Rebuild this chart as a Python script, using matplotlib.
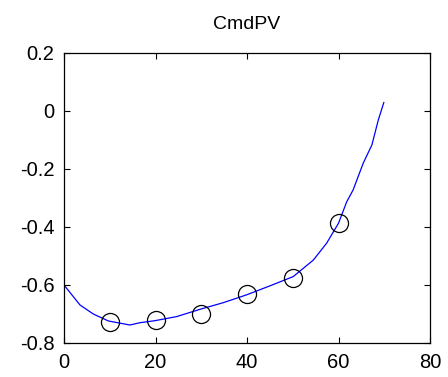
import numpy as np
import matplotlib.pyplot as plt

plt.rcParams['font.family'] = ['Liberation Sans', 'DejaVu Sans']

# blue curve
line_x = [0, 3.5, 6.4, 9.7, 14.4, 16.6, 19.9, 24.6, 29.7, 34.8, 39.9, 45.0,
          50.1, 54.5, 57.4, 60.0, 61.8, 63.2, 65.4, 67.3, 68.7, 69.9]
line_y = [-0.600, -0.669, -0.700, -0.724, -0.738, -0.730, -0.723, -0.709,
          -0.684, -0.661, -0.634, -0.603, -0.571, -0.514, -0.456, -0.387,
          -0.313, -0.272, -0.180, -0.117, -0.031, 0.029]

# circle markers
pts_x = [10, 20, 30, 40, 50, 60]
pts_y = [-0.728, -0.721, -0.700, -0.631, -0.576, -0.387]

fig = plt.figure(figsize=(4.48, 3.77), dpi=100)
ax = fig.add_axes([64/448, 34/377, 366/448, 290/377])

ax.plot(line_x, line_y, color='#0000ff', lw=0.9)
ax.plot(pts_x, pts_y, 'o', mfc='none', mec='black', ms=13, mew=0.9)

ax.set_xlim(0, 80)
ax.set_ylim(-0.8, 0.2)
ax.set_xticks([0, 20, 40, 60, 80])
ax.set_yticks([-0.8, -0.6, -0.4, -0.2, 0, 0.2])
ax.set_yticklabels(['-0.8', '-0.6', '-0.4', '-0.2', '0', '0.2'])
ax.tick_params(direction='in', top=True, right=True, labelsize=14.5, length=4, pad=7)
for s in ax.spines.values():
    s.set_linewidth(0.9)

ax.set_title('CmdPV', fontsize=14, pad=17)

fig.savefig('out.png', dpi=100)
